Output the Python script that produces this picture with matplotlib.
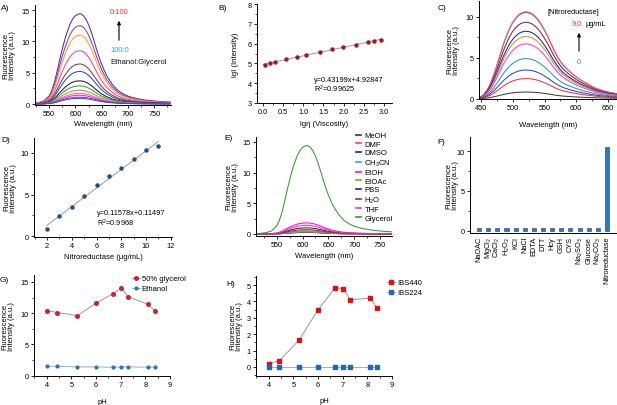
import matplotlib
matplotlib.use('Agg')
import matplotlib.pyplot as plt
from matplotlib.ticker import AutoMinorLocator, MultipleLocator, FormatStrFormatter
import numpy as np

plt.rcParams['font.family'] = ['Liberation Sans', 'DejaVu Sans']
plt.rcParams['mathtext.default'] = 'regular'
plt.rcParams['font.size'] = 5.5

# ---------------- data ----------------
# Panel A / E emission spectrum shape (normalised)
wl_A = [510, 520, 530, 540, 550, 555, 560, 565, 570, 575, 580, 585, 590, 595, 600, 605,
        610, 615, 620, 625, 630, 635, 640, 645, 650, 655, 660, 670, 680, 690, 700, 710,
        720, 730, 740, 750, 760, 770, 780]
shape_A = [0.004, 0.008, 0.016, 0.035, 0.09, 0.15, 0.24, 0.36, 0.49, 0.61, 0.72, 0.81,
           0.89, 0.945, 0.98, 0.996, 1.0, 0.98, 0.94, 0.88, 0.80, 0.71, 0.61, 0.52,
           0.44, 0.37, 0.31, 0.22, 0.155, 0.115, 0.088, 0.070, 0.057, 0.047, 0.040,
           0.034, 0.029, 0.025, 0.022]
peaks_A = [14.4, 12.5, 11.0, 8.5, 6.4, 5.2, 3.7, 2.9, 2.2, 1.7, 1.4, 1.1, 0.9]
colors_A = ['#3a34b4', '#9b3a9b', '#f5a020', '#ff3fa0', '#8b3a3a', '#2a4bd0', '#222222',
            '#3a9a3a', '#a0a040', '#ff6699', '#dd33dd', '#8833cc', '#3355cc']

# Panel B
lg_visc = [0.05, 0.17, 0.30, 0.57, 0.84, 1.07, 1.42, 1.71, 1.99, 2.30, 2.60, 2.76, 2.92]
lg_int = [4.93, 5.0, 5.07, 5.2, 5.33, 5.43, 5.6, 5.72, 5.83, 5.95, 6.07, 6.13, 6.18]

# Panel C spectrum shape
wl_C = [440, 445, 450, 455, 460, 465, 470, 475, 480, 485, 490, 495, 500, 505, 510, 515,
        520, 525, 530, 535, 540, 545, 550, 555, 560, 565, 570, 575, 580, 590, 600, 610,
        620, 630, 640, 650, 660, 670]
shape_C = [0.004, 0.008, 0.02, 0.05, 0.10, 0.17, 0.27, 0.38, 0.50, 0.62, 0.72, 0.81,
           0.88, 0.93, 0.97, 0.99, 1.0, 0.995, 0.98, 0.95, 0.91, 0.855, 0.79, 0.72,
           0.64, 0.56, 0.49, 0.43, 0.38, 0.31, 0.25, 0.20, 0.16, 0.12, 0.095, 0.075,
           0.06, 0.05]
peaks_C = [10.55, 10.65, 9.35, 8.25, 7.6, 6.7, 4.9, 3.5, 2.45, 0.8]
colors_C = ['#5b6b2f', '#ff5c8a', '#8b1c3c', '#1a2a9c', '#b0a030', '#ff33ee',
            '#2a9d8f', '#3344cc', '#ee3333', '#404040']

# Panel D
nitro = [2, 3, 4, 5, 6, 7, 8, 9, 10, 11]
nitro_int = [0.88, 2.45, 3.45, 4.78, 6.1, 7.27, 8.15, 9.28, 10.3, 10.8]

# Panel E
solvents = ['MeOH', 'DMF', 'DMSO', 'CH$_3$CN', 'EtOH', 'EtOAc', 'PBS', 'H$_2$O', 'THF', 'Glycerol']
solv_peaks = [0.3, 0.5, 0.25, 0.3, 1.8, 0.4, 1.0, 0.7, 1.4, 14.4]
solv_colors = ['#333333', '#ff4444', '#1010cc', '#33aaaa', '#ff00ff', '#999933',
               '#222288', '#993333', '#ff3399', '#339933']

# Panel F
analytes = ['NaOAC', 'MgCl$_2$', 'CaCl$_2$', 'H$_2$O$_2$', 'KCl', 'NaCl', 'EDTA', 'DTT',
            'Hcy', 'GSH', 'CYS', 'Na$_2$SO$_3$', 'Glucose', 'Na$_2$CO$_3$', 'Nitroreductase']
analyte_int = [0.3] * 14 + [10.6]

# Panel G
ph = [4.0, 4.43, 5.24, 6.0, 6.69, 7.03, 7.3, 8.12, 8.4]
glyc50 = [10.4, 10.1, 9.6, 11.6, 13.1, 14.0, 12.6, 11.4, 10.3]
ethanol = [1.5, 1.5, 1.4, 1.4, 1.35, 1.4, 1.4, 1.35, 1.4]

# Panel H
ibs440 = [0.2, 0.38, 1.67, 3.49, 4.84, 4.78, 4.09, 4.21, 3.57]
ibs224 = [0.0, 0.0, 0.0, 0.0, 0.0, 0.0, 0.0, 0.0, 0.0]

# ---------------- figure ----------------
W, H = 617, 406
fig = plt.figure(figsize=(W / 100, H / 100), dpi=100)


def add_ax(l, t, r, b):
    return fig.add_axes([l / W, 1 - b / H, (r - l) / W, (b - t) / H])


def style(ax, minor_x=True, minor_y=True):
    for s in ['top', 'right']:
        ax.spines[s].set_visible(False)
    for s in ['left', 'bottom']:
        ax.spines[s].set_linewidth(0.7)
    ax.tick_params(which='major', direction='out', length=2.2, width=0.6, labelsize=5.3, pad=1.5)
    ax.tick_params(which='minor', direction='out', length=1.3, width=0.5)
    if minor_x:
        ax.xaxis.set_minor_locator(AutoMinorLocator(2))
    if minor_y:
        ax.yaxis.set_minor_locator(AutoMinorLocator(2))


def fl_ylabel(ax, x):
    ax.set_ylabel('Fluorescence\nIntensity (a.u.)', fontsize=5.5, linespacing=1.0)
    ax.yaxis.set_label_coords(x, 0.5)


def fx(px):
    return px / W


def fy(py):
    return 1 - py / H


def letter(txt, x, y):
    fig.text(fx(x), fy(y), txt, fontsize=6, ha='left', va='center')


# A
axA = add_ax(35, 6, 171, 106)
style(axA)
for pk, c in zip(peaks_A, colors_A):
    axA.plot(wl_A, np.array(shape_A) * pk, color=c, lw=0.75)
axA.set_xlim(523, 782)
axA.set_ylim(-0.15, 15.8)
axA.xaxis.set_major_locator(MultipleLocator(50))
axA.yaxis.set_major_locator(MultipleLocator(5))
axA.set_xlabel('Wavelength (nm)', fontsize=5.5)
axA.xaxis.set_label_coords(0.5, -0.145)
fl_ylabel(axA, -0.14)
fig.text(fx(110), fy(13), '0:100', color='#e8323c', fontsize=5.5, va='center')
fig.text(fx(110), fy(50), '100:0', color='#3a9ad9', fontsize=5.5, va='center')
fig.text(fx(110), fy(62), 'Ethanol:Glycerol', color='#111111', fontsize=5.5, va='center')
fig.patches.append(matplotlib.patches.FancyArrowPatch((fx(119), fy(44)), (fx(119), fy(19)),
                   transform=fig.transFigure, arrowstyle='-|>', mutation_scale=5, lw=0.8, color='black'))
letter('A)', 1, 8)

# B
axB = add_ax(257, 5, 392, 104)
style(axB)
bx = np.array(lg_visc)
k, b0 = np.polyfit(bx, lg_int, 1)
xx = np.array([0.0, 2.95])
axB.plot(xx, k * xx + b0, color='#999999', lw=0.7)
axB.plot(lg_visc, lg_int, 'o', color='#a01828', ms=2.2, mec='#a01828')
axB.set_xlim(-0.15, 3.2)
axB.set_ylim(3, 8)
axB.xaxis.set_major_locator(MultipleLocator(0.5))
axB.xaxis.set_major_formatter(FormatStrFormatter('%.1f'))
axB.yaxis.set_major_locator(MultipleLocator(1))
axB.set_xlabel('lgη (Viscosity)', fontsize=5.5)
axB.xaxis.set_label_coords(0.5, -0.167)
axB.set_ylabel('lgI (Intensity)', fontsize=5.5)
axB.yaxis.set_label_coords(-0.133, 0.5)
fig.text(fx(314), fy(80), 'y=0.43199x+4.92847', fontsize=5.3, va='center')
fig.text(fx(314), fy(89), 'R$^2$=0.99625', fontsize=5.3, va='center')
letter('B)', 218, 8)

# C
axC = add_ax(479, 2, 617, 100)
style(axC)
for pk, c in zip(peaks_C, colors_C):
    axC.plot(wl_C, np.array(shape_C) * pk, color=c, lw=0.75)
axC.set_xlim(447, 664)
axC.set_ylim(-0.05, 11.95)
axC.xaxis.set_major_locator(MultipleLocator(50))
axC.yaxis.set_major_locator(MultipleLocator(5))
axC.set_xlabel('Wavelength (nm)', fontsize=5.5)
axC.xaxis.set_label_coords(0.5, -0.222)
fl_ylabel(axC, -0.138)
fig.text(fx(547), fy(13), '[Nitroreductase]', fontsize=5.3, va='center')
fig.text(fx(572), fy(25), '9.0', color='#e8323c', fontsize=5.3, va='center')
fig.text(fx(585), fy(25), 'μg/mL', fontsize=5.3, va='center')
fig.text(fx(579), fy(62), '0', color='#3a9ad9', fontsize=5.5, va='center', ha='center')
fig.patches.append(matplotlib.patches.FancyArrowPatch((fx(579), fy(55)), (fx(579), fy(31)),
                   transform=fig.transFigure, arrowstyle='-|>', mutation_scale=5, lw=0.8, color='black'))
letter('C)', 438, 8)

# D
axD = add_ax(34, 139, 172, 238)
style(axD)
dx = np.array(nitro, dtype=float)
k2, b2 = np.polyfit(dx, nitro_int, 1)
xx2 = np.array([2.0, 11.0])
axD.plot(xx2, k2 * xx2 + b2, color='#999999', lw=0.7)
axD.plot(nitro, nitro_int, 'o', color='#1f4e8c', ms=2.2)
axD.set_xlim(0.95, 12.1)
axD.set_ylim(-0.1, 11.8)
axD.xaxis.set_major_locator(MultipleLocator(2))
axD.yaxis.set_major_locator(MultipleLocator(5))
axD.set_xlabel('Nitroreductase (μg/mL)', fontsize=5.5)
axD.xaxis.set_label_coords(0.5, -0.157)
fl_ylabel(axD, -0.124)
fig.text(fx(97), fy(214), 'y=0.11578x+0.11497', fontsize=5.3, va='center')
fig.text(fx(97), fy(223), 'R$^2$=0.9968', fontsize=5.3, va='center')
letter('D)', 1, 140)

# E
axE = add_ax(256, 138, 392, 236.7)
style(axE)
for name, pk, c in zip(solvents, solv_peaks, solv_colors):
    axE.plot(wl_A, np.array(shape_A) * pk, color=c, lw=0.75, label=name)
axE.set_xlim(510, 773)
axE.set_ylim(-0.28, 15.8)
axE.xaxis.set_major_locator(MultipleLocator(50))
axE.yaxis.set_major_locator(MultipleLocator(5))
axE.set_xlabel('Wavelength (nm)', fontsize=5.5)
axE.xaxis.set_label_coords(0.5, -0.17)
fl_ylabel(axE, -0.125)
legE = axE.legend(loc='upper left', bbox_to_anchor=(0.735, 1.05), frameon=False, fontsize=5.5,
                  handlelength=0.6, handletextpad=0.5, labelspacing=0.15, borderpad=0,
                  borderaxespad=0)
for ln in legE.get_lines():
    ln.set_linewidth(1.2)
letter('E)', 224, 139)

# F
axF = add_ax(470, 138, 617, 234)
style(axF, minor_x=False)
pos = np.arange(len(analytes))
axF.bar(pos, analyte_int, width=0.45, color='#2a7bc4', edgecolor='#1a3a6a', linewidth=0.4)
axF.set_xlim(-1.0, 15.1)
axF.set_ylim(-0.3, 11.8)
axF.yaxis.set_major_locator(MultipleLocator(5))
axF.set_xticks(pos)
axF.set_xticklabels(analytes, rotation=90, fontsize=5.3)
axF.tick_params(axis='x', length=0, pad=2)
fl_ylabel(axF, -0.075)
letter('F)', 437, 142)

# G
axG = add_ax(34, 276, 170, 377)
style(axG)
axG.plot(ph, glyc50, '-o', color='#999999', mfc='#cc2233', mec='#cc2233', ms=2.6, lw=0.7,
         label='50% glycerol')
axG.plot(ph, ethanol, '-o', color='#9ab0c8', mfc='#2277bb', mec='#2277bb', ms=2.0, lw=0.7,
         label='Ethanol')
axG.set_xlim(3.48, 9.0)
axG.set_ylim(-0.05, 16.1)
axG.xaxis.set_major_locator(MultipleLocator(1))
axG.yaxis.set_major_locator(MultipleLocator(5))
axG.set_xlabel('pH', fontsize=5.5)
axG.xaxis.set_label_coords(0.5, -0.213)
fl_ylabel(axG, -0.14)
axG.legend(loc='upper left', bbox_to_anchor=(0.72, 1.0), frameon=False, fontsize=5.5,
           handlelength=1.0, handletextpad=0.3, labelspacing=0.35, borderpad=0,
           borderaxespad=0, numpoints=1)
letter('G)', 0, 281)

# H
axH = add_ax(256, 277, 392, 377)
style(axH)
axH.plot(ph, ibs440, '-s', color='#999999', mfc='#dd1111', mec='#dd1111', ms=2.8, lw=0.7,
         label='IBS440')
axH.plot(ph, ibs224, '-s', color='#9ab0c8', mfc='#2266bb', mec='#2266bb', ms=2.8, lw=0.7,
         label='IBS224')
axH.set_xlim(3.48, 9.0)
axH.set_ylim(-0.55, 5.55)
axH.xaxis.set_major_locator(MultipleLocator(1))
axH.yaxis.set_major_locator(MultipleLocator(1))
axH.set_xlabel('pH', fontsize=5.5)
axH.xaxis.set_label_coords(0.5, -0.215)
fl_ylabel(axH, -0.096)
axH.legend(loc='upper left', bbox_to_anchor=(0.965, 0.97), frameon=False, fontsize=5.5,
           handlelength=1.0, handletextpad=0.3, labelspacing=0.35, borderpad=0,
           borderaxespad=0, numpoints=1)
letter('H)', 226, 285)

fig.savefig('out.png', dpi=100)
